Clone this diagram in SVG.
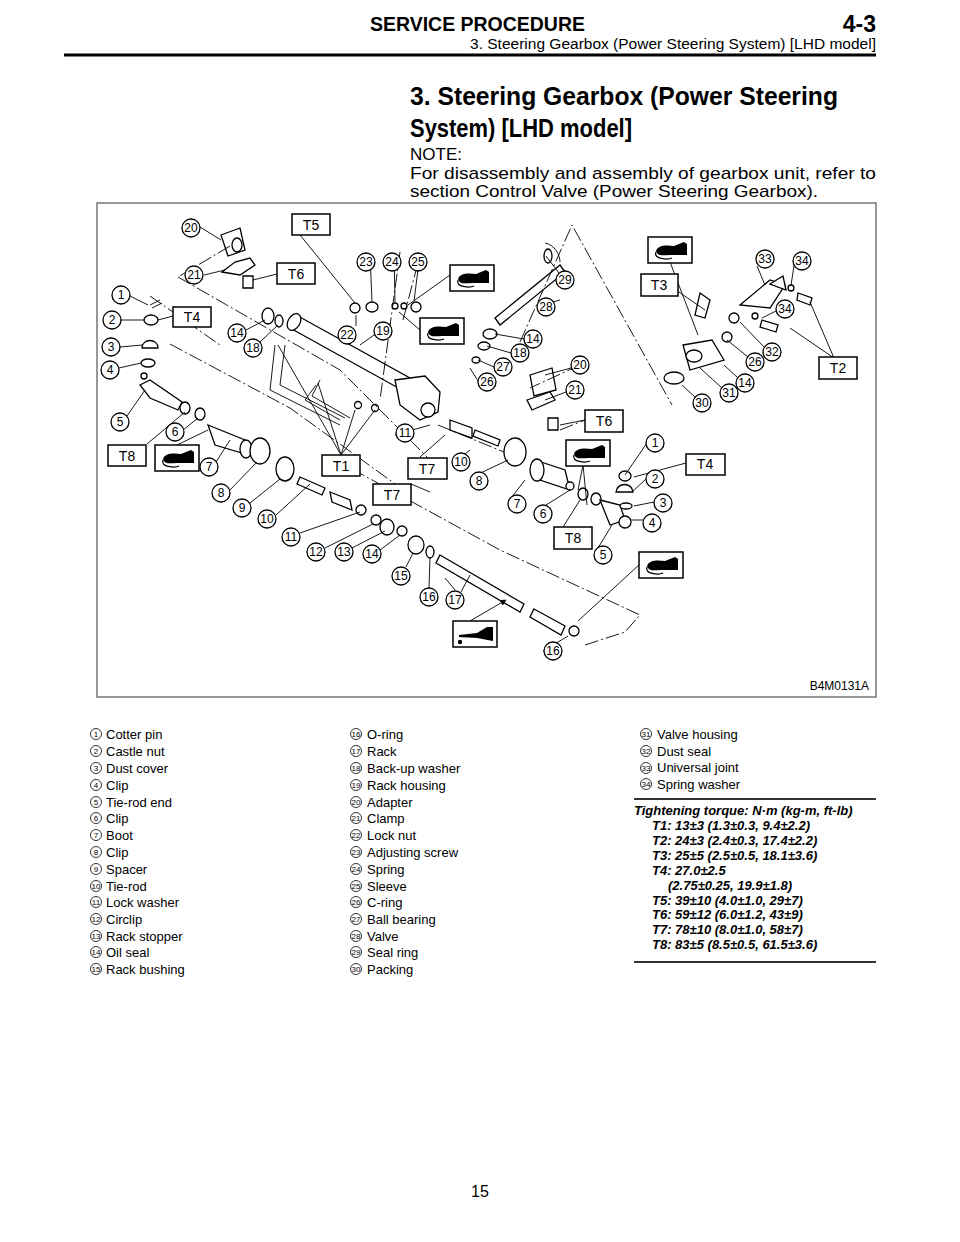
<svg xmlns="http://www.w3.org/2000/svg" width="960" height="1242" viewBox="0 0 960 1242">
<defs>
<style>
text{font-family:"Liberation Sans",Arial,sans-serif;fill:#000}
.c circle{fill:#fff;stroke:#000;stroke-width:1.3}
.c text{font-size:12px;text-anchor:middle}
.t rect{fill:#fff;stroke:#000;stroke-width:1.5}
.t text{font-size:14px;text-anchor:middle}
.ld{stroke:#000;stroke-width:0.9;fill:none}
.dd{stroke:#000;stroke-width:0.9;fill:none;stroke-dasharray:14 3 2 3}
.p{fill:#fff;stroke:#000;stroke-width:1.3}
.lg{font-size:13px}
.ln circle{fill:none;stroke:#000;stroke-width:0.8}
.ln text{font-size:8px;text-anchor:middle}
.tq{font-size:13px;font-weight:bold;font-style:italic}
</style>
<marker id="ah" viewBox="0 0 10 10" refX="9" refY="5" markerWidth="7" markerHeight="7" orient="auto"><path d="M0,0L10,5L0,10z" fill="#000"/></marker>
<g id="grease"><rect x="0" y="0" width="44" height="26" fill="#fff" stroke="#000" stroke-width="1.5"/><path d="M8,14 C10,8 18,8 26,9 L36,5 L39,7 L39,18 L22,18 C16,18 10,20 8,14 Z" fill="#000"/><path d="M8,15 C5,22 20,23 24,21" fill="none" stroke="#000" stroke-width="1.3"/></g>
<g id="oil"><rect x="0" y="0" width="44" height="26" fill="#fff" stroke="#000" stroke-width="1.5"/><path d="M6,14 L24,12 L34,6 L40,6 L40,20 L24,17 L6,16 Z" fill="#000"/><circle cx="7" cy="21" r="2.2" fill="#000"/></g>
</defs>
<rect width="960" height="1242" fill="#fff"/>
<g id="header">
<text x="370" y="31" font-size="21" font-weight="bold" textLength="215" lengthAdjust="spacingAndGlyphs">SERVICE PROCEDURE</text>
<text x="876" y="32" font-size="23" font-weight="bold" text-anchor="end">4-3</text>
<text x="470" y="49" font-size="14" textLength="406" lengthAdjust="spacingAndGlyphs">3. Steering Gearbox (Power Steering System) [LHD model]</text>
<line x1="64" y1="55" x2="876" y2="55" stroke="#000" stroke-width="3"/>
<text x="410" y="105" font-size="26" font-weight="bold" textLength="428" lengthAdjust="spacingAndGlyphs">3. Steering Gearbox (Power Steering</text>
<text x="410" y="137" font-size="26" font-weight="bold" textLength="222" lengthAdjust="spacingAndGlyphs">System) [LHD model]</text>
<text x="410" y="160" font-size="17">NOTE:</text>
<text x="410" y="179" font-size="17" textLength="466" lengthAdjust="spacingAndGlyphs">For disassembly and assembly of gearbox unit, refer to</text>
<text x="410" y="197" font-size="17" textLength="408" lengthAdjust="spacingAndGlyphs">section Control Valve (Power Steering Gearbox).</text>
</g>
<rect id="frame" x="97" y="203" width="779" height="494" fill="none" stroke="#777" stroke-width="1.5"/>
<text x="869" y="690" font-size="12" text-anchor="end">B4M0131A</text>
<g id="parts">
<path class="p" d="M290,328 L420,400 L428,388 L298,316 Z"/>
<ellipse class="p" cx="294" cy="322" rx="6" ry="9" transform="rotate(30 294 322)"/>
<path class="p" d="M395,380 L425,376 L440,392 L438,412 L420,420 L400,405 Z"/>
<circle class="p" cx="428" cy="410" r="7"/>
<ellipse class="p" cx="268" cy="316" rx="6" ry="8"/><ellipse class="p" cx="279" cy="321" rx="4" ry="6"/>
<path class="ld" d="M275,345 L270,390 L340,425 M285,345 L280,385 L345,418" />
<path class="ld" d="M316,385 L305,400 L340,420 M320,380 L312,396 L350,418"/>
<circle class="p" cx="358" cy="405" r="3.5"/><circle class="p" cx="375" cy="408" r="3.5"/>
<circle class="p" cx="355" cy="308" r="5"/><ellipse class="p" cx="372" cy="307" rx="6" ry="5"/><circle class="p" cx="395" cy="306" r="3"/><circle class="p" cx="404" cy="306" r="3"/><ellipse class="p" cx="416" cy="307" rx="5" ry="5"/>
<path class="p" d="M221,235 L240,228 L245,250 L228,256 Z"/><ellipse class="p" cx="237" cy="245" rx="5" ry="7"/>
<path class="p" d="M222,272 L235,262 L250,258 L255,265 L240,275 Z"/>
<path class="p" d="M243,276 L253,276 L253,288 L243,288 Z"/>
<path class="ld" d="M150,305 L160,300 M152,308 L162,303"/>
<ellipse class="p" cx="151" cy="320" rx="7" ry="5"/>
<path class="p" d="M142,348 C142,338 158,338 158,348 Z"/>
<ellipse class="p" cx="148" cy="363" rx="7" ry="4"/>
<path class="p" d="M140,385 L150,380 L182,402 L178,410 L150,398 Z"/><circle class="p" cx="144" cy="376" r="3"/>
<ellipse class="p" cx="185" cy="408" rx="5" ry="6"/><ellipse class="p" cx="200" cy="414" rx="5" ry="6"/>
<path class="p" d="M208,425 L245,440 L252,456 L215,445 Z"/><ellipse class="p" cx="246" cy="449" rx="6" ry="9"/>
<ellipse class="p" cx="260" cy="451" rx="10" ry="13" fill="none"/>
<ellipse class="p" cx="285" cy="469" rx="9" ry="12"/>
<path class="p" d="M300,477 L325,488 L322,495 L297,484 Z"/>
<path class="p" d="M330,492 L350,500 L352,510 L332,502 Z"/>
<circle class="p" cx="361" cy="510" r="5"/><circle class="p" cx="376" cy="520" r="5" fill="none"/><ellipse class="p" cx="387" cy="527" rx="7" ry="8"/>
<circle class="p" cx="402" cy="531" r="5"/><ellipse class="p" cx="416" cy="545" rx="8" ry="9"/><ellipse class="p" cx="430" cy="552" rx="4" ry="6"/>
<path class="p" d="M440,555 L524,604 L520,612 L436,563 Z"/>
<path class="p" d="M534,609 L565,626 L561,635 L530,617 Z"/>
<circle class="p" cx="574" cy="631" r="5"/>
<path class="p" d="M495,318 L560,265 L565,272 L500,325 Z"/>
<path class="ld" d="M545,243 C555,245 560,255 560,262"/><ellipse class="p" cx="548" cy="256" rx="4" ry="7"/>
<ellipse class="p" cx="490" cy="334" rx="7" ry="5"/><ellipse class="p" cx="484" cy="346" rx="6" ry="4"/><ellipse class="p" cx="476" cy="360" rx="4" ry="3"/>
<path class="p" d="M530,375 L552,368 L556,390 L534,396 Z"/>
<path class="p" d="M527,400 L550,392 L555,400 L532,410 Z"/>
<path class="p" d="M548,418 L558,418 L558,430 L548,430 Z"/>
<path class="p" d="M450,420 L472,428 L472,438 L450,430 Z"/><path class="p" d="M475,430 L500,440 L498,446 L473,436 Z"/>
<ellipse class="p" cx="515" cy="452" rx="11" ry="14" fill="none"/>
<path class="p" d="M535,460 L565,470 L570,490 L540,480 Z"/><ellipse class="p" cx="537" cy="470" rx="7" ry="11"/>
<circle class="p" cx="570" cy="486" r="4"/><ellipse class="p" cx="583" cy="494" rx="5" ry="6"/><ellipse class="p" cx="596" cy="499" rx="5" ry="6"/>
<path class="p" d="M600,500 L620,505 L625,520 L610,525 Z"/><circle class="p" cx="625" cy="522" r="6"/>
<ellipse class="p" cx="625" cy="476" rx="6" ry="5"/><path class="p" d="M616,492 C617,482 632,482 633,492 Z"/><ellipse class="p" cx="626" cy="506" rx="6" ry="3"/>
<path class="p" d="M700,293 L710,300 L705,318 L695,315 Z"/>
<path class="p" d="M683,345 L712,340 L724,360 L690,370 Z"/><ellipse class="p" cx="694" cy="356" rx="8" ry="6"/>
<ellipse class="p" cx="674" cy="378" rx="10" ry="6" fill="none"/>
<circle class="p" cx="727" cy="337" r="5"/><circle class="p" cx="734" cy="318" r="5"/>
<path class="p" d="M740,305 L770,280 L785,285 L770,308 Z"/><path class="p" d="M770,284 L783,276 L786,290 Z"/>
<circle class="p" cx="791" cy="288" r="3"/><path class="p" d="M798,293 L812,298 L810,305 L797,300 Z"/>
<circle class="p" cx="755" cy="316" r="3"/><path class="p" d="M762,320 L778,325 L776,332 L760,327 Z"/>
</g>
<g id="connectors">
<path class="dd" d="M178,277 L340,370 L430,460 M170,344 L290,408 L398,486 M352,469 L500,550 L640,615 L625,632 L585,645 M403,320 L420,255 M520,342 L572,225 L672,405 M230,246 L178,277"/>
<path class="dd" d="M150,296 L220,345 M438,425 L504,452 M400,252 L380,400 M560,430 L595,416 M580,365 L530,388"/>
<path class="ld" d="M200,227 L221,240 M204,275 L225,270 M277,274 L253,280 M292,225 L355,303 M130,296 L148,305 M121,320 L144,320 M120,347 L142,345 M119,368 L141,363 M127,416 L145,390 M173,316 L158,320 M147,444 L185,412 M183,430 L198,418 M216,462 L230,440 M230,490 L257,462 M250,503 L280,479 M276,515 L310,484 M300,533 L360,512 M325,548 L373,524 M352,548 L385,531 M380,550 L400,535 M406,567 L413,553 M429,588 L430,557 M461,592 L470,575 M246,330 L265,320 M260,342 L278,325 M356,326 L356,315 M370,254 L372,302 M394,254 L395,302 M420,254 L414,301 M391,323 L360,345"/>
<path class="ld" d="M341,455 L278,345 M341,455 L318,383 M341,455 L355,410 M341,455 L375,410 M395,435 L430,425 M420,457 L445,435 M452,465 L470,450 M470,478 L508,460 M411,484 L430,492 M559,273 L546,256 M537,306 L560,300 M524,339 L495,334 M511,353 L487,346 M494,367 L478,360 M478,381 L470,368 M571,368 L545,375 M566,392 L545,400 M585,420 L560,425 M508,502 L525,480 M535,512 L570,490 M563,527 L580,500 M598,548 L612,525 M647,443 L625,475 M686,463 L634,477 M646,479 L632,492 M654,502 L634,506 M644,520 L630,520"/>
<path class="ld" d="M676,290 L705,310 M757,266 L765,285 M794,266 L791,285 M778,310 L762,318 M764,347 L740,322 M748,357 L727,340 M738,378 L724,365 M722,388 L700,368 M696,398 L682,385 M834,358 L810,302 M834,358 L790,328"/>
<path class="ld" d="M543,651 L568,636 M455,590 L445,578"/>
<path class="ld" marker-end="url(#ah)" d="M450,275 L408,305 M420,330 L399,312 M177,445 L208,430 M583,465 L578,490 M583,465 L587,505 M670,262 L698,335 M640,564 L578,621 M470,621 L506,600"/>
</g>
<use href="#grease" x="450" y="265"/>
<use href="#grease" x="420" y="318"/>
<use href="#grease" x="155" y="445"/>
<use href="#grease" x="566" y="440"/>
<use href="#grease" x="648" y="237"/>
<use href="#grease" x="639" y="552"/>
<use href="#oil" x="453" y="621"/>
<g id="tboxes" class="t">
<g id="t5"><rect x="292" y="214" width="38" height="21"/><text x="311" y="230">T5</text></g>
<g id="t6a"><rect x="277" y="263" width="38" height="21"/><text x="296" y="279">T6</text></g>
<g id="t4a"><rect x="173" y="307" width="38" height="20"/><text x="192" y="322">T4</text></g>
<g id="t8a"><rect x="108" y="445" width="38" height="21"/><text x="127" y="461">T8</text></g>
<g id="t1"><rect x="322" y="455" width="38" height="21"/><text x="341" y="471">T1</text></g>
<g id="t7a"><rect x="408" y="458" width="39" height="21"/><text x="427" y="474">T7</text></g>
<g id="t7b"><rect x="373" y="484" width="38" height="21"/><text x="392" y="500">T7</text></g>
<g id="t3"><rect x="641" y="274" width="37" height="22"/><text x="659" y="290">T3</text></g>
<g id="t2"><rect x="819" y="357" width="38" height="22"/><text x="838" y="373">T2</text></g>
<g id="t6b"><rect x="585" y="410" width="38" height="22"/><text x="604" y="426">T6</text></g>
<g id="t4b"><rect x="686" y="454" width="39" height="21"/><text x="705" y="469">T4</text></g>
<g id="t8b"><rect x="554" y="527" width="38" height="22"/><text x="573" y="543">T8</text></g>
</g>
<g id="callouts" class="c">
<g><circle cx="191" cy="228" r="9"/><text x="191" y="232">20</text></g>
<g><circle cx="194" cy="275" r="9"/><text x="194" y="279">21</text></g>
<g><circle cx="121" cy="295" r="9"/><text x="121" y="299">1</text></g>
<g><circle cx="112" cy="320" r="9"/><text x="112" y="324">2</text></g>
<g><circle cx="111" cy="347" r="9"/><text x="111" y="351">3</text></g>
<g><circle cx="110" cy="370" r="9"/><text x="110" y="374">4</text></g>
<g><circle cx="120" cy="422" r="9"/><text x="120" y="426">5</text></g>
<g><circle cx="175" cy="432" r="9"/><text x="175" y="436">6</text></g>
<g><circle cx="209" cy="467" r="9"/><text x="209" y="471">7</text></g>
<g><circle cx="221" cy="493" r="9"/><text x="221" y="497">8</text></g>
<g><circle cx="242" cy="508" r="9"/><text x="242" y="512">9</text></g>
<g><circle cx="267" cy="519" r="9"/><text x="267" y="523">10</text></g>
<g><circle cx="291" cy="537" r="9"/><text x="291" y="541">11</text></g>
<g><circle cx="316" cy="552" r="9"/><text x="316" y="556">12</text></g>
<g><circle cx="344" cy="552" r="9"/><text x="344" y="556">13</text></g>
<g><circle cx="372" cy="554" r="9"/><text x="372" y="558">14</text></g>
<g><circle cx="401" cy="576" r="9"/><text x="401" y="580">15</text></g>
<g><circle cx="429" cy="597" r="9"/><text x="429" y="601">16</text></g>
<g><circle cx="455" cy="600" r="9"/><text x="455" y="604">17</text></g>
<g><circle cx="237" cy="333" r="9"/><text x="237" y="337">14</text></g>
<g><circle cx="253" cy="348" r="9"/><text x="253" y="352">18</text></g>
<g><circle cx="347" cy="335" r="9"/><text x="347" y="339">22</text></g>
<g><circle cx="383" cy="331" r="9"/><text x="383" y="335">19</text></g>
<g><circle cx="366" cy="262" r="9"/><text x="366" y="266">23</text></g>
<g><circle cx="392" cy="262" r="9"/><text x="392" y="266">24</text></g>
<g><circle cx="418" cy="262" r="9"/><text x="418" y="266">25</text></g>
<g><circle cx="405" cy="433" r="9"/><text x="405" y="437">11</text></g>
<g><circle cx="461" cy="462" r="9"/><text x="461" y="466">10</text></g>
<g><circle cx="479" cy="481" r="9"/><text x="479" y="485">8</text></g>
<g><circle cx="565" cy="280" r="9"/><text x="565" y="284">29</text></g>
<g><circle cx="546" cy="307" r="9"/><text x="546" y="311">28</text></g>
<g><circle cx="533" cy="339" r="9"/><text x="533" y="343">14</text></g>
<g><circle cx="520" cy="353" r="9"/><text x="520" y="357">18</text></g>
<g><circle cx="503" cy="367" r="9"/><text x="503" y="371">27</text></g>
<g><circle cx="487" cy="382" r="9"/><text x="487" y="386">26</text></g>
<g><circle cx="580" cy="365" r="9"/><text x="580" y="369">20</text></g>
<g><circle cx="575" cy="390" r="9"/><text x="575" y="394">21</text></g>
<g><circle cx="517" cy="504" r="9"/><text x="517" y="508">7</text></g>
<g><circle cx="543" cy="514" r="9"/><text x="543" y="518">6</text></g>
<g><circle cx="603" cy="555" r="9"/><text x="603" y="559">5</text></g>
<g><circle cx="652" cy="523" r="9"/><text x="652" y="527">4</text></g>
<g><circle cx="663" cy="503" r="9"/><text x="663" y="507">3</text></g>
<g><circle cx="655" cy="479" r="9"/><text x="655" y="483">2</text></g>
<g><circle cx="655" cy="443" r="9"/><text x="655" y="447">1</text></g>
<g><circle cx="553" cy="651" r="9"/><text x="553" y="655">16</text></g>
<g><circle cx="765" cy="259" r="9"/><text x="765" y="263">33</text></g>
<g><circle cx="802" cy="261" r="9"/><text x="802" y="265">34</text></g>
<g><circle cx="785" cy="309" r="9"/><text x="785" y="313">34</text></g>
<g><circle cx="772" cy="352" r="9"/><text x="772" y="356">32</text></g>
<g><circle cx="755" cy="362" r="9"/><text x="755" y="366">26</text></g>
<g><circle cx="745" cy="383" r="9"/><text x="745" y="387">14</text></g>
<g><circle cx="729" cy="393" r="9"/><text x="729" y="397">31</text></g>
<g><circle cx="702" cy="403" r="9"/><text x="702" y="407">30</text></g>
</g>
<g id="legend1" class="lg">
<g class="ln"><circle cx="96" cy="734" r="5.5"/><text x="96" y="737">1</text><circle cx="96" cy="751" r="5.5"/><text x="96" y="754">2</text><circle cx="96" cy="768" r="5.5"/><text x="96" y="771">3</text><circle cx="96" cy="785" r="5.5"/><text x="96" y="788">4</text><circle cx="96" cy="802" r="5.5"/><text x="96" y="805">5</text><circle cx="96" cy="818" r="5.5"/><text x="96" y="821">6</text><circle cx="96" cy="835" r="5.5"/><text x="96" y="838">7</text><circle cx="96" cy="852" r="5.5"/><text x="96" y="855">8</text><circle cx="96" cy="869" r="5.5"/><text x="96" y="872">9</text><circle cx="96" cy="886" r="5.5"/><text x="96" y="889">10</text><circle cx="96" cy="902" r="5.5"/><text x="96" y="905">11</text><circle cx="96" cy="919" r="5.5"/><text x="96" y="922">12</text><circle cx="96" cy="936" r="5.5"/><text x="96" y="939">13</text><circle cx="96" cy="952" r="5.5"/><text x="96" y="955">14</text><circle cx="96" cy="969" r="5.5"/><text x="96" y="972">15</text></g>
<text x="106" y="739">Cotter pin</text><text x="106" y="756">Castle nut</text><text x="106" y="773">Dust cover</text><text x="106" y="790">Clip</text><text x="106" y="807">Tie-rod end</text><text x="106" y="823">Clip</text><text x="106" y="840">Boot</text><text x="106" y="857">Clip</text><text x="106" y="874">Spacer</text><text x="106" y="891">Tie-rod</text><text x="106" y="907">Lock washer</text><text x="106" y="924">Circlip</text><text x="106" y="941">Rack stopper</text><text x="106" y="957">Oil seal</text><text x="106" y="974">Rack bushing</text>
</g>
<g id="legend2" class="lg">
<g class="ln"><circle cx="356" cy="734" r="5.5"/><text x="356" y="737">16</text><circle cx="356" cy="751" r="5.5"/><text x="356" y="754">17</text><circle cx="356" cy="768" r="5.5"/><text x="356" y="771">18</text><circle cx="356" cy="785" r="5.5"/><text x="356" y="788">19</text><circle cx="356" cy="802" r="5.5"/><text x="356" y="805">20</text><circle cx="356" cy="818" r="5.5"/><text x="356" y="821">21</text><circle cx="356" cy="835" r="5.5"/><text x="356" y="838">22</text><circle cx="356" cy="852" r="5.5"/><text x="356" y="855">23</text><circle cx="356" cy="869" r="5.5"/><text x="356" y="872">24</text><circle cx="356" cy="886" r="5.5"/><text x="356" y="889">25</text><circle cx="356" cy="902" r="5.5"/><text x="356" y="905">26</text><circle cx="356" cy="919" r="5.5"/><text x="356" y="922">27</text><circle cx="356" cy="936" r="5.5"/><text x="356" y="939">28</text><circle cx="356" cy="952" r="5.5"/><text x="356" y="955">29</text><circle cx="356" cy="969" r="5.5"/><text x="356" y="972">30</text></g>
<text x="367" y="739">O-ring</text><text x="367" y="756">Rack</text><text x="367" y="773">Back-up washer</text><text x="367" y="790">Rack housing</text><text x="367" y="807">Adapter</text><text x="367" y="823">Clamp</text><text x="367" y="840">Lock nut</text><text x="367" y="857">Adjusting screw</text><text x="367" y="874">Spring</text><text x="367" y="891">Sleeve</text><text x="367" y="907">C-ring</text><text x="367" y="924">Ball bearing</text><text x="367" y="941">Valve</text><text x="367" y="957">Seal ring</text><text x="367" y="974">Packing</text>
</g>
<g id="legend3" class="lg">
<g class="ln"><circle cx="646" cy="734" r="5.5"/><text x="646" y="737">31</text><circle cx="646" cy="751" r="5.5"/><text x="646" y="754">32</text><circle cx="646" cy="768" r="5.5"/><text x="646" y="771">33</text><circle cx="646" cy="784" r="5.5"/><text x="646" y="787">34</text></g>
<text x="657" y="739">Valve housing</text><text x="657" y="756">Dust seal</text><text x="657" y="772">Universal joint</text><text x="657" y="789">Spring washer</text>
<line x1="634" y1="799" x2="876" y2="799" stroke="#333" stroke-width="2"/>
<text class="tq" x="634" y="815">Tightening torque: N·m (kg-m, ft-lb)</text>
<text class="tq" x="652" y="830">T1: 13±3 (1.3±0.3, 9.4±2.2)</text>
<text class="tq" x="652" y="845">T2: 24±3 (2.4±0.3, 17.4±2.2)</text>
<text class="tq" x="652" y="860">T3: 25±5 (2.5±0.5, 18.1±3.6)</text>
<text class="tq" x="652" y="875">T4: 27.0±2.5</text>
<text class="tq" x="668" y="890">(2.75±0.25, 19.9±1.8)</text>
<text class="tq" x="652" y="905">T5: 39±10 (4.0±1.0, 29±7)</text>
<text class="tq" x="652" y="919">T6: 59±12 (6.0±1.2, 43±9)</text>
<text class="tq" x="652" y="934">T7: 78±10 (8.0±1.0, 58±7)</text>
<text class="tq" x="652" y="949">T8: 83±5 (8.5±0.5, 61.5±3.6)</text>
<line x1="634" y1="962" x2="876" y2="962" stroke="#333" stroke-width="2"/>
</g>
<text x="480" y="1197" font-size="16" text-anchor="middle">15</text>
</svg>
